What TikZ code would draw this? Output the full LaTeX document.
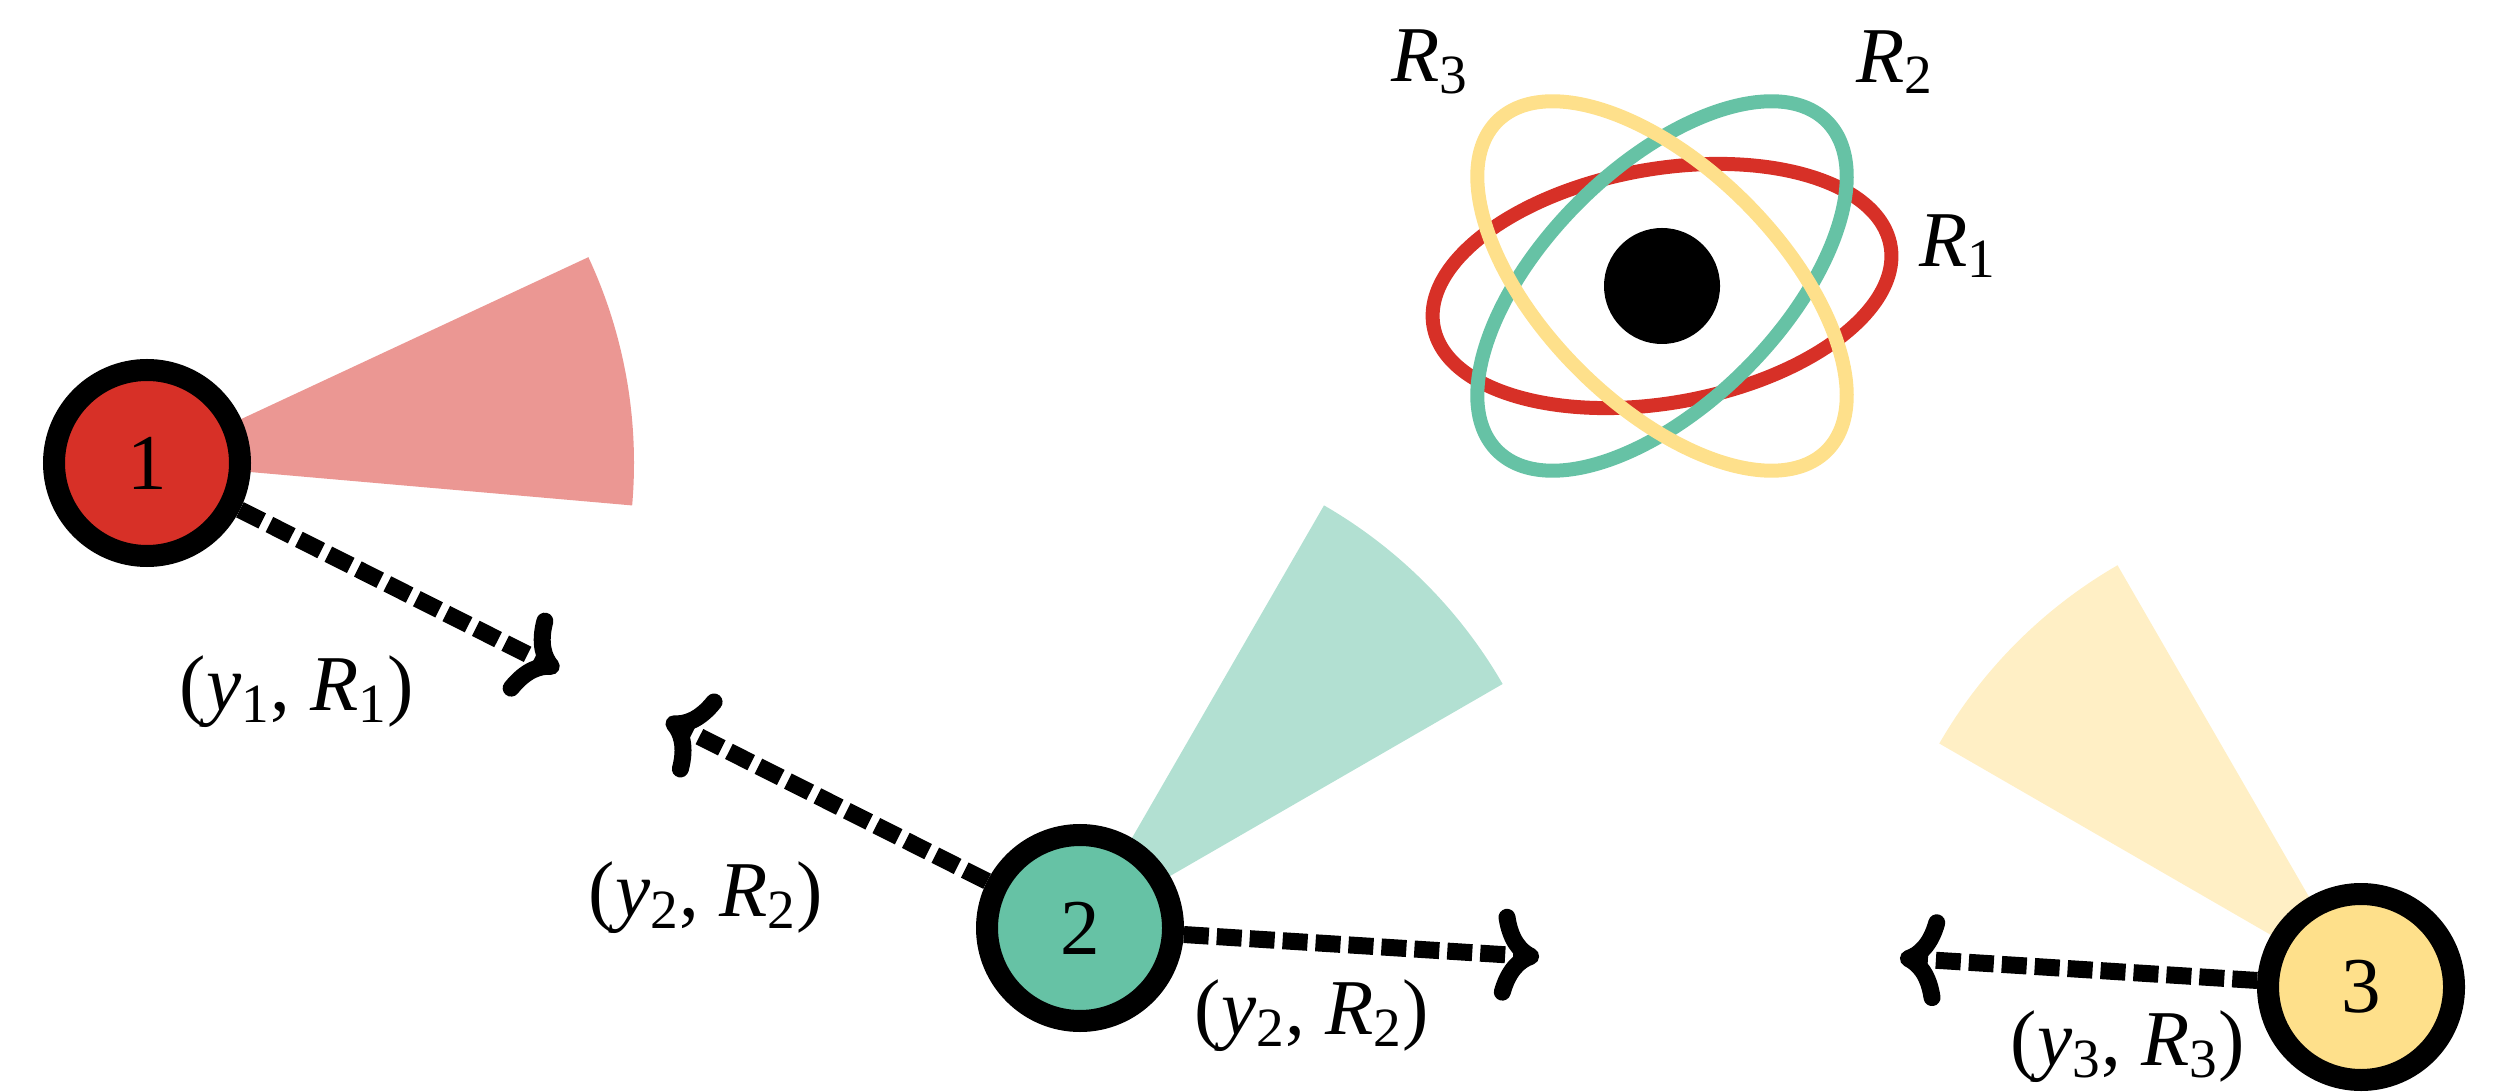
\documentclass[tikz,border=0pt]{standalone}
\usepackage{fontspec}
\setmainfont{Liberation Serif}
\usetikzlibrary{arrows.meta}
\definecolor{agentred}{HTML}{D73027}
\definecolor{agentgreen}{HTML}{66C2A5}
\definecolor{agentyellow}{HTML}{FEE08B}
\newcommand{\bigfont}{\fontsize{22.5}{27}\selectfont}
\newcommand{\pairlabel}[1]{(\textit{y}\textsubscript{#1}, \textit{R}\textsubscript{#1})}
\tikzset{
  agent/.style={circle, draw=black, line width=2.2mm, minimum size=18.6mm, inner sep=0pt, fill=#1, font=\bigfont},
  msg/.style={line width=1.7mm, dash pattern=on 2.5mm off 0.8mm, -{Computer Modern Rightarrow[round,length=4.3mm,width=9.2mm,line width=1.7mm]}},
  orbit/.style={draw=#1, line width=1.4mm},
  fov/.style={fill=#1!50},
  lbl/.style={font=\bigfont, inner sep=0pt}
}

\begin{document}
\begin{tikzpicture}

% Canvas
\useasboundingbox (0,0) rectangle (25.04,10.91);

% Agent positions
\coordinate (p1) at (1.47,6.28);
\coordinate (p2) at (10.80,1.63);
\coordinate (p3) at (23.61,1.04);

% Fields of view
\fill[fov=agentred] (p1) -- ++(-5:4.87) arc[start angle=-5, end angle=25, radius=4.87] -- cycle;
\fill[fov=agentgreen] (p2) -- ++(30:4.88) arc[start angle=30, end angle=60, radius=4.88] -- cycle;
\fill[fov=agentyellow] (p3) -- ++(120:4.87) arc[start angle=120, end angle=150, radius=4.87] -- cycle;

% Agents
\node[agent=agentred] (n1) at (p1) {1};
\node[agent=agentgreen] (n2) at (p2) {2};
\node[agent=agentyellow] (n3) at (p3) {3};

% Message tips
\path (p1) ++(-26.7:4.61) coordinate (t1);
\path (p2) ++(153.3:4.63) coordinate (t2a);
\path (p2) ++(-3.6:4.60) coordinate (t2b);
\path (p3) ++(176.4:4.62) coordinate (t3);

% Messages
\draw[msg] (n1) -- (t1);
\draw[msg] (n2) -- (t2a);
\draw[msg] (n2) -- (t2b);
\draw[msg] (n3) -- (t3);

% Message labels
\node[lbl] (m1) at (2.97,3.99) {\pairlabel{1}};
\node[lbl] (m2a) at (7.06,1.93) {\pairlabel{2}};
\node[lbl] (m2b) at (13.12,0.75) {\pairlabel{2}};
\node[lbl] (m3) at (21.28,0.44) {\pairlabel{3}};

% Atom
\node[circle, fill=black, minimum size=11.6mm, inner sep=0pt] (nucleus) at (16.62,8.05) {};
\draw[orbit=agentred] (nucleus.center) circle[x radius=2.32, y radius=1.17, rotate=10];
\draw[orbit=agentgreen] (nucleus.center) circle[x radius=2.33, y radius=1.18, rotate=45];
\draw[orbit=agentyellow] (nucleus.center) circle[x radius=2.33, y radius=1.18, rotate=-45];

% Orbit labels
\node[lbl] (r3) at (14.30,10.29) {\textit{R}\textsubscript{3}};
\node[lbl] (r2) at (18.95,10.29) {\textit{R}\textsubscript{2}};
\node[lbl] (r1) at (19.58,8.45) {\textit{R}\textsubscript{1}};

\end{tikzpicture}
\end{document}
